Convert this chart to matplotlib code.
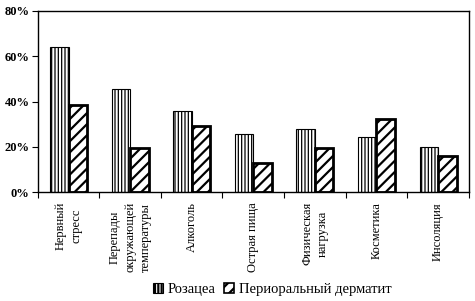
import matplotlib
matplotlib.use("Agg")
import matplotlib.pyplot as plt
import numpy as np
from matplotlib.patches import Patch
from matplotlib.ticker import PercentFormatter

categories = ["Нервный\nстресс", "Перепады\nокружающей\nтемпературы", "Алкоголь",
              "Острая пища", "Физическая\nнагрузка", "Косметика", "Инсоляция"]
rosacea = [64, 45.6, 36, 25.8, 28, 24.2, 20]
perioral = [38.6, 19.6, 29, 13, 19.5, 32.4, 16]
series_names = ["Розацеа", "Периоральный дерматит"]

plt.rcParams["font.family"] = ["Liberation Serif", "DejaVu Serif"]

fig = plt.figure(figsize=(4.75, 3.01), dpi=100)
ax = fig.add_axes([0.0794, 0.361, 0.9076, 0.6035])

x = np.arange(len(categories))
w = 0.3
plt.rcParams["hatch.linewidth"] = 0.9
ax.bar(x - w / 2, rosacea, w, color="white", edgecolor="black", linewidth=0.8, hatch="|||||")
h1 = Patch(facecolor="white", edgecolor="black", hatch="|||||", linewidth=0.8)
plt.rcParams["hatch.linewidth"] = 1.6
ax.bar(x + w / 2, perioral, w, color="white", edgecolor="black", linewidth=2.0, hatch="///")
h2 = Patch(facecolor="white", edgecolor="black", hatch="///", linewidth=1.2)

ax.set_xlim(-0.5, len(categories) - 0.5)
ax.set_ylim(0, 80)
ax.set_yticks([0, 20, 40, 60, 80])
ax.yaxis.set_major_formatter(PercentFormatter(decimals=0))
for lab in ax.get_yticklabels():
    lab.set_fontweight("bold")
    lab.set_fontsize(9)

ax.set_xticks(np.arange(len(categories) + 1) - 0.5, minor=False)
ax.set_xticklabels([])
ax.set_xticks(x, minor=True)
ax.set_xticklabels(categories, minor=True, rotation=90, fontsize=9, va="top", ha="center",
                   linespacing=1.4)
ax.tick_params(axis="x", which="minor", length=0, pad=7)
ax.tick_params(axis="x", which="major", length=4, direction="out")
ax.tick_params(axis="y", length=4, direction="out", pad=2)
for s in ax.spines.values():
    s.set_linewidth(1.0)

fig.legend([h1, h2], series_names, loc="center", bbox_to_anchor=(0.573, 0.037), ncol=2,
           frameon=False, fontsize=10.5, handlelength=0.7, handleheight=0.7,
           handletextpad=0.3, columnspacing=0.6)

fig.savefig("out.png", dpi=100)
